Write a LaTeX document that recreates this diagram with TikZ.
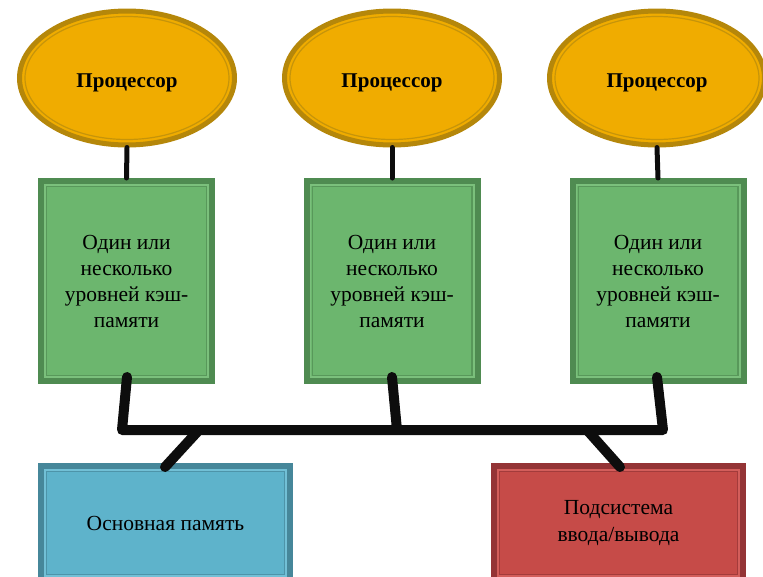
\documentclass[tikz,border=0pt]{standalone}
\usepackage{fontspec}
\setmainfont{Liberation Serif}
\usetikzlibrary{shapes.geometric,calc}
\definecolor{procfill}{HTML}{F0AC00}
\definecolor{procline}{HTML}{B5870A}
\definecolor{procinner}{HTML}{C6940A}
\definecolor{cachefill}{HTML}{6CB66E}
\definecolor{cacheline}{HTML}{4F8B51}
\definecolor{cachelight}{HTML}{7BC07C}
\definecolor{memfill}{HTML}{5EB3CB}
\definecolor{memline}{HTML}{46879A}
\definecolor{memlight}{HTML}{72C0D6}
\definecolor{iofill}{HTML}{C64B48}
\definecolor{ioline}{HTML}{943436}
\definecolor{iolight}{HTML}{D35E5B}
\tikzset{
  proc/.style={ellipse, fill=procfill, draw=procline, line width=5pt,
    minimum width=215pt, minimum height=134pt, inner sep=0pt,
    text height=20pt, text depth=2pt,
    font=\fontsize{21}{25}\selectfont\bfseries,
    path picture={\draw[procinner, line width=1.2pt] (path picture bounding box.center) ellipse [x radius=102pt, y radius=61.5pt];}},
  framed/.style n args={3}{rectangle, fill=#1, draw=#2, line width=6pt,
    path picture={
      \draw[#3, line width=1.6pt] ([xshift=3.8pt,yshift=3.8pt]path picture bounding box.south west) rectangle ([xshift=-3.8pt,yshift=-3.8pt]path picture bounding box.north east);
      \draw[#2!70!#1, line width=1.2pt] ([xshift=5.6pt,yshift=5.6pt]path picture bounding box.south west) rectangle ([xshift=-5.6pt,yshift=-5.6pt]path picture bounding box.north east);}},
  cache/.style={framed={cachefill}{cacheline}{cachelight},
    minimum width=171pt, minimum height=200pt, inner sep=0pt, align=center, font=\fontsize{21.5}{26}\selectfont},
  lowbox/.style={minimum width=249pt, minimum height=114pt, inner sep=0pt, align=center, font=\fontsize{21.5}{27}\selectfont},
  link/.style={line width=5pt, line cap=round, black!95},
  bus/.style={line width=10pt, line cap=round, line join=round, black!95}
}
\begin{document}
\begin{tikzpicture}[x=1pt,y=-1pt]
\useasboundingbox (0,0) rectangle (763,576);
\clip (0,0) rectangle (763,576);
% processors
\node[proc] (p1) at (127,78) {Процессор};
\node[proc] (p2) at (392,78) {Процессор};
\node[proc] (p3) at (657,78) {Процессор};
% caches
\node[cache] (c1) at (126.5,281) {Один или\\несколько\\уровней кэш-\\памяти};
\node[cache] (c2) at (392,281) {Один или\\несколько\\уровней кэш-\\памяти};
\node[cache] (c3) at (658,281) {Один или\\несколько\\уровней кэш-\\памяти};
% lower boxes
\node[lowbox, framed={memfill}{memline}{memlight}] (mem) at (165.5,523) {Основная память};
\node[lowbox, framed={iofill}{ioline}{iolight}] (io) at (618.5,523) {Подсистема\\ввода/вывода};
% processor-cache links
\draw[link] (p1.south) -- (c1.north);
\draw[link] (p2.south) -- (c2.north);
\draw[link] (p3.south) -- (c3.north);
% bus
\coordinate (k1) at (127,377);
\coordinate (k2) at (392,377);
\coordinate (k3) at (657,377);
\coordinate (j1) at (122,430);
\coordinate (j2) at (397,430);
\coordinate (j3) at (663,430);
\coordinate (m1) at (199,430);
\coordinate (m2) at (587,430);
\coordinate (mt) at (165,467);
\coordinate (it) at (620,467);
\draw[bus] (k1) -- (j1) -- (j3) -- (k3);
\draw[bus] (k2) -- (j2);
\draw[bus] (m1) -- (mt);
\draw[bus] (m2) -- (it);
\end{tikzpicture}
\end{document}
